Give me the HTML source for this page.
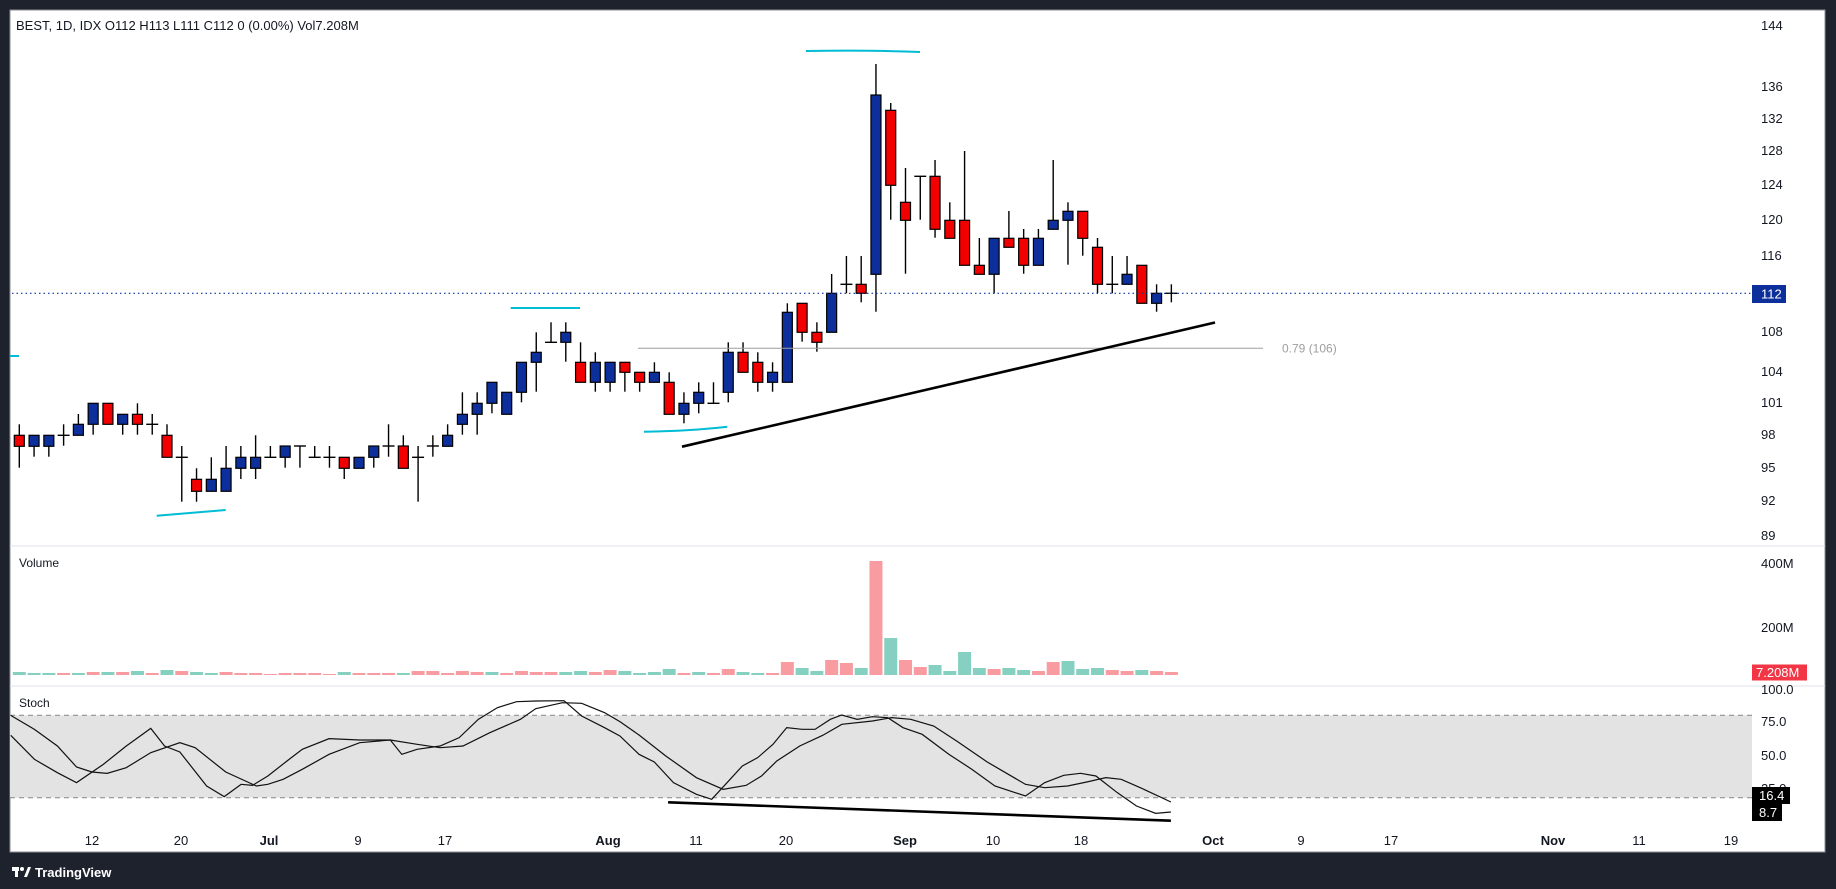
<!DOCTYPE html>
<html><head><meta charset="utf-8"><style>
html,body{margin:0;padding:0;background:#1e222d;width:1836px;height:889px;overflow:hidden}
svg{display:block}
text{font-family:"Liberation Sans",sans-serif}
</style></head><body>
<svg id="s" width="1836" height="889" viewBox="0 0 1836 889" xmlns="http://www.w3.org/2000/svg">
<rect x="0" y="0" width="1836" height="889" fill="#1e222d"/>
<rect x="10" y="10" width="1815" height="842" fill="#ffffff" stroke="#8a8d96" stroke-width="1"/>
<line x1="10" y1="546" x2="1825" y2="546" stroke="#e0e3eb"/>
<line x1="10" y1="686" x2="1825" y2="686" stroke="#e0e3eb"/>
<rect x="10" y="715.3" width="1742" height="82.4" fill="#e3e3e3"/>
<line x1="10" y1="715.3" x2="1752" y2="715.3" stroke="#888" stroke-dasharray="5,4"/>
<line x1="10" y1="797.7" x2="1752" y2="797.7" stroke="#888" stroke-dasharray="5,4"/>
<g id="cand"></g>
<g id="vol"></g>
<g transform="translate(0,686) scale(0.7653,0.33333)" fill="none" stroke="#111" stroke-width="1.2">
<polyline vector-effect="non-scaling-stroke" points="14,148 45,220 75,260 100,290 135,235 165,180 197,127 215,180 235,198 270,300 293,332 315,295 330,298 350,270 375,225 395,190 430,158 470,162 510,162 525,205 545,190 575,180 600,155 625,100 650,65 675,47 700,45 737,44 760,90 790,125 810,150 835,205 855,228 880,290 910,325 930,340 950,290 970,240 990,215 1010,175 1028,125 1048,130 1065,130 1085,100 1100,87 1120,100 1140,92 1160,95 1180,125 1205,145 1240,205 1270,250 1300,300 1340,330 1365,290 1390,268 1412,262 1432,270 1460,320 1485,360 1510,382 1530,378"/>
<polyline vector-effect="non-scaling-stroke" points="14,88 45,130 75,180 100,243 120,258 140,262 165,245 197,200 235,170 255,185 295,258 335,300 350,295 370,280 395,250 430,205 470,170 510,162 545,175 575,185 605,180 640,140 680,100 700,68 735,50 760,52 790,80 810,107 835,147 870,210 910,275 945,310 975,298 995,270 1015,225 1045,180 1075,148 1100,115 1140,105 1165,95 1190,100 1220,120 1250,165 1290,228 1340,295 1365,305 1395,300 1420,288 1445,275 1465,280 1490,305 1530,348"/>
<line vector-effect="non-scaling-stroke" x1="873" y1="349" x2="1530" y2="404" stroke="#000" stroke-width="2.6"/>
</g>
<line x1="12" y1="293.3" x2="1752" y2="293.3" stroke="#0c2f9b" stroke-dasharray="1.5,3" stroke-width="1.2"/>
<line x1="638" y1="348.3" x2="1263" y2="348.3" stroke="#9e9e9e" stroke-width="1"/>
<text x="1282" y="352.5" font-size="12" fill="#9e9e9e">0.79 (106)</text>
<line x1="682" y1="446.7" x2="1215" y2="322.5" stroke="#000" stroke-width="2.6"/>
<g stroke="#00bcd4" stroke-width="2" fill="none">
<line x1="156.7" y1="515.7" x2="225.7" y2="510"/>
<line x1="510.7" y1="308" x2="580" y2="308"/>
<path d="M644,431.7 Q690,431 727.3,426.7"/>
<path d="M806,51 Q870,50 920,52"/>
<line x1="10" y1="356" x2="19" y2="356"/>
</g>
<text x="16" y="30" font-size="13" fill="#131722">BEST, 1D, IDX  O112  H113  L111  C112  0 (0.00%)  Vol7.208M</text>
<text x="19" y="567" font-size="12" fill="#131722">Volume</text>
<text x="19" y="707" font-size="12" fill="#131722">Stoch</text>
<g font-size="13" fill="#131722">
<text x="1761" y="30">144</text>
<text x="1761" y="91">136</text>
<text x="1761" y="123">132</text>
<text x="1761" y="155">128</text>
<text x="1761" y="189">124</text>
<text x="1761" y="224">120</text>
<text x="1761" y="260">116</text>
<text x="1761" y="336">108</text>
<text x="1761" y="376">104</text>
<text x="1761" y="407">101</text>
<text x="1761" y="439">98</text>
<text x="1761" y="472">95</text>
<text x="1761" y="505">92</text>
<text x="1761" y="540">89</text>
<text x="1761" y="568">400M</text>
<text x="1761" y="632">200M</text>
<text x="1761" y="694">100.0</text>
<text x="1761" y="726">75.0</text>
<text x="1761" y="760">50.0</text>
<text x="1761" y="793">25.0</text>
</g>
<rect x="1752" y="285" width="34" height="18" fill="#0c2f9b"/>
<text x="1761" y="298.5" font-size="13" fill="#fff">112</text>
<rect x="1752" y="664.5" width="55" height="16" fill="#f23645"/>
<text x="1756" y="677" font-size="13" fill="#fff">7.208M</text>
<rect x="1752" y="787" width="38" height="17" fill="#000"/>
<text x="1759" y="800" font-size="13" fill="#fff">16.4</text>
<rect x="1752" y="804" width="30" height="17" fill="#000"/>
<text x="1759" y="817" font-size="13" fill="#fff">8.7</text>
<g font-size="13" fill="#131722" text-anchor="middle">
<text x="92" y="845">12</text>
<text x="181" y="845">20</text>
<text x="269" y="845" font-weight="bold">Jul</text>
<text x="358" y="845">9</text>
<text x="445" y="845">17</text>
<text x="608" y="845" font-weight="bold">Aug</text>
<text x="696" y="845">11</text>
<text x="786" y="845">20</text>
<text x="905" y="845" font-weight="bold">Sep</text>
<text x="993" y="845">10</text>
<text x="1081" y="845">18</text>
<text x="1213" y="845" font-weight="bold">Oct</text>
<text x="1301" y="845">9</text>
<text x="1391" y="845">17</text>
<text x="1553" y="845" font-weight="bold">Nov</text>
<text x="1639" y="845">11</text>
<text x="1731" y="845">19</text>
</g>
<g fill="#fff">
<rect x="12" y="867" width="7" height="4"/><rect x="15" y="867" width="3" height="10"/>
<circle cx="22" cy="869" r="2"/><path d="M24,877 L28,867 L31,867 L27,877Z"/>
<text x="35" y="877" font-size="13" font-weight="bold">TradingView</text>
</g>
</svg>
<script>
var C=[
["r",435.3,446.3,424.3,467.7],["b",435.3,446.3,435.3,456.7],["b",435.3,446.3,435.3,456.7],["d",435.3,435.3,424.3,445.7],["b",424.3,435.3,414,435.3],
["b",403.3,424.3,403.3,434.7],["r",403.3,424.3,403.3,424.3],["b",414.3,424.3,414.3,434.7],["r",414.3,424.3,403.3,434.7],["d",424.3,424.3,414,434.7],
["r",435.3,457.3,424.3,457.3],["d",457.3,457.3,446,501.7],["r",479.3,491.3,468.3,501.7],["b",479.3,491.3,457.3,491.3],["b",468.3,491.3,446,491.3],
["b",457.3,468.3,446,479],["b",457.3,468.3,435.3,479],["d",457.3,457.3,446,457.3],["b",446,457.3,446,467.7],["d",446,446,446,467.7],
["d",457.3,457.3,446,457.3],["d",457.3,457.3,446,467.7],["r",457.3,468.3,457.3,479],["b",457.3,468.3,457.3,468.3],["b",446,457.3,446,467.7],
["d",446,446,424.3,456.7],["r",446,468.3,435.3,468.3],["d",457.3,457.3,446,501.7],["d",446,446,435.3,456.7],["b",435.3,446.3,424.3,446.3],
["b",414.3,424.3,392.3,434.7],["b",403.3,414.3,392.3,434.7],["b",382.3,403.3,382.3,413.3],["b",392.3,414.3,392.3,414.3],["b",362.3,392.3,362.3,402.3],
["b",352.3,362.3,332.3,391.7],["d",342.3,342.3,322.3,342.3],["b",332.3,342.3,322.3,361.7],["r",362.3,382.3,342.3,382.3],["b",362.3,382.3,352.3,391.7],
["b",362.3,382.3,362.3,391.7],["r",362.3,372.3,362.3,391.7],["r",372.3,382.3,372.3,391.7],["b",372.3,382.3,362.3,382.3],["r",382.3,414.3,372.3,414.3],
["b",403.3,414.3,392.3,423.3],["b",392.3,403.3,382.3,413.3],["d",403.3,403.3,382.3,403.3],["b",352.3,392.3,342.3,402.3],["r",352.3,372.3,342.3,372.3],
["r",362.3,382.3,352.3,391.7],["b",372.3,382.3,362.3,391.7],["b",312.3,382.3,303.3,382.3],["r",303.3,332.3,303.3,341.7],["r",332.3,342.3,322.3,351.7],
["b",293.3,332.3,274,332.3],["d",284.3,284.3,256,293.3],["r",284.3,293.3,256,302.3],["b",95,274.3,64,311.7],["r",110.3,185.3,103,219.7],
["r",202.3,220.3,168,273.7],["d",176.3,176.3,176.3,219.7],["r",176.3,229.3,160,237.7],["r",220.3,238.3,202.3,238.3],["r",220.3,265.3,151,265.3],
["r",265.3,274.3,238,274.3],["b",238.3,274.3,238.3,293.3],["r",238.3,247.3,211,247.3],["r",238.3,265.3,229,273.7],["b",238.3,265.3,229,265.3],
["b",220.3,229.3,160,229.3],["b",211.3,220.3,202.3,264.7],["r",211.3,238.3,211.3,255.7],["r",247.3,284.3,238,293.3],["d",284.3,284.3,256,293.3],
["b",274.3,284.3,256,284.3],["r",265.3,303.3,265.3,303.3],["b",293.3,303.3,284.3,311.7],["d",293.3,293.3,284.3,302.3]];
var V="g366 g369 g369 r369 g369 r366 g366 r366 g363 r369 g360 r363 g366 g369 r366 r369 r369 r372 r369 r369 r369 r372 g366 r369 r369 r369 g369 r363 r363 r369 r363 r366 g366 r369 r363 r366 r366 g366 g363 r366 r360 g363 g369 g366 g357 r369 g366 r369 r357 g366 g369 r369 r336 g354 g363 r330 r339 g354 r33 g264 r330 r351 g345 g363 g306 g354 r357 g354 g360 r363 r336 g333 g357 g354 r360 r363 g360 r363 r366".split(" ");
var h="",v="";
for(var i=0;i<C.length;i++){var c=C[i],x=19.3+i*14.77;
h+='<line x1="'+x+'" y1="'+c[3]+'" x2="'+x+'" y2="'+c[4]+'" stroke="#000" stroke-width="1.4"/>';
if(c[0]=="d"){h+='<line x1="'+(x-6)+'" y1="'+c[1]+'" x2="'+(x+6)+'" y2="'+c[1]+'" stroke="#000" stroke-width="1.4"/>';}
else{h+='<rect x="'+(x-5)+'" y="'+c[1]+'" width="10" height="'+Math.max(1,c[2]-c[1])+'" fill="'+(c[0]=="r"?"#f20000":"#0c2f9b")+'" stroke="#000" stroke-width="1.2"/>';}
var t=V[i];if(t){var vt=parseFloat(t.slice(1))/3+550;
v+='<rect x="'+(x-6.5)+'" y="'+vt+'" width="13" height="'+(675-vt)+'" fill="'+(t[0]=="r"?"#f89ca2":"#86d0c1")+'"/>';}}
document.getElementById("cand").innerHTML=h;document.getElementById("vol").innerHTML=v;
</script>
</body></html>
